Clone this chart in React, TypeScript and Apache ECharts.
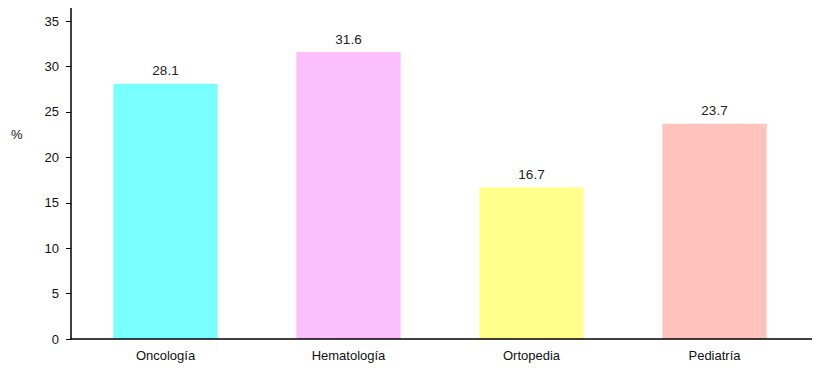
import React, { useEffect, useRef } from "react";
import * as echarts from "echarts";

const categories = ["Oncología", "Hematología", "Ortopedia", "Pediatría"];
const values = [28.1, 31.6, 16.7, 23.7];
const colors = ["#78ffff", "#fbbffb", "#ffff8a", "#ffc2bd"];
const yTicks = [0, 5, 10, 15, 20, 25, 30, 35];

export default function App() {
  const ref = useRef<HTMLDivElement>(null);
  useEffect(() => {
    if (!ref.current) return;
    const chart = echarts.init(ref.current, null, { renderer: "svg" });
    const font = "Liberation Sans, Arial, sans-serif";
    chart.setOption({
      animation: false,
      grid: { left: 74, right: 25, top: 3, bottom: 34, containLabel: false },
      graphic: [
        {
          type: "line",
          shape: { x1: 70, y1: 339, x2: 812, y2: 339 },
          style: { stroke: "#000", lineWidth: 1.5 },
          z: 10,
        },
        {
          type: "text",
          x: 11,
          y: 128,
          style: { text: "%", fill: "#111", fontSize: 13, fontFamily: font },
        },
      ],
      xAxis: {
        type: "category",
        data: categories,
        axisLine: { show: false },
        axisTick: { show: false },
        axisLabel: { color: "#111", fontSize: 13, fontFamily: font, margin: 10 },
      },
      yAxis: {
        type: "value",
        min: 0,
        max: 37,
        interval: 5,
        offset: 3,
        splitLine: { show: false },
        axisLine: { show: true, lineStyle: { color: "#000", width: 1.5 } },
        axisTick: { show: true, length: 5, lineStyle: { color: "#000" }, customValues: yTicks },
        axisLabel: { color: "#111", fontSize: 13, fontFamily: font, margin: 12, customValues: yTicks },
      },
      series: [
        {
          type: "bar",
          barWidth: "57%",
          data: values.map((v, i) => ({ value: v, itemStyle: { color: colors[i] } })),
          label: {
            show: true,
            position: "top",
            distance: 6,
            color: "#222",
            fontSize: 13.5,
            fontFamily: font,
          },
        },
      ],
    });
    return () => chart.dispose();
  }, []);
  return <div ref={ref} style={{ width: 831, height: 373, margin: -8 }} />;
}
